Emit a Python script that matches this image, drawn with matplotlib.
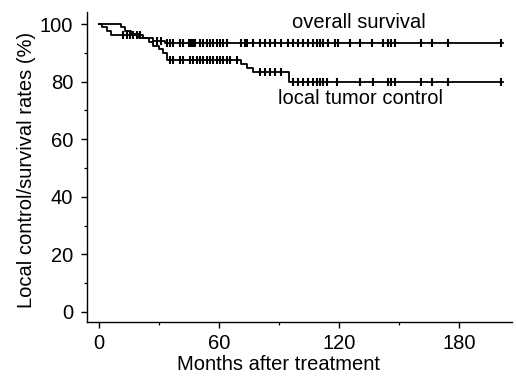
import numpy as np
import matplotlib
matplotlib.use("Agg")
import matplotlib.pyplot as plt
from matplotlib.ticker import MultipleLocator

plt.rcParams['font.family'] = ['Liberation Sans', 'DejaVu Sans']

# Overall survival (step times / values, censor times)
os_t = [0, 11, 13, 16, 20, 27, 33, 202]
os_v = [100, 98.8, 97.6, 96.4, 95.2, 94.2, 93.5, 93.5]
os_cens = [29, 31, 34, 35.5, 37, 40.5, 42, 45, 46, 47, 48, 50.5, 52, 54, 55.5, 57,
           59, 60.5, 62, 64, 71, 73, 74, 77, 80.5, 83, 85.5, 88, 91, 94.5, 97, 99.5,
           102, 104.5, 107, 109, 110.5, 112, 114.5, 118, 119.5, 125.5, 130.5, 136.5,
           142, 144.5, 146, 148, 161, 166.5, 174.5, 201]

# Local tumor control
lc_t = [0, 1.5, 4, 6, 22, 25, 27, 30, 32, 34, 71, 74, 77, 95, 202]
lc_v = [100, 98.8, 97.6, 96.2, 95.0, 93.8, 92.5, 91.2, 90.0, 87.5, 86.2, 84.8, 83.2, 80.0, 80.0]
lc_cens = [12, 14, 15.5, 17, 19, 20.5, 35.5, 37, 40.5, 42, 45.5, 47, 49, 50.5, 52, 54,
           55.5, 57, 59, 60.5, 62, 64, 65.5, 69, 80.5, 83, 85.5, 88, 91, 97, 99.5, 102,
           104.5, 107, 109, 110.5, 112, 114, 119, 130.5, 137, 144.5, 146, 148, 161,
           166.5, 174.5, 201]

x_ticks = [0, 60, 120, 180]
y_ticks = [0, 20, 40, 60, 80, 100]


def step_val(t, times, vals):
    idx = np.searchsorted(times, t, side='right') - 1
    return np.asarray(vals)[idx]


FS = 14.5
fig = plt.figure(figsize=(5.16, 3.76), dpi=100)
ax = fig.add_axes([0.1686, 0.1444, 0.8231, 0.8246])

for times, vals, cens in [(os_t, os_v, os_cens), (lc_t, lc_v, lc_cens)]:
    ax.plot(times, vals, drawstyle='steps-post', color='black', lw=1.3)
    cy = step_val(np.array(cens), np.array(times), vals)
    ax.plot(cens, cy, linestyle='none', marker='|', markersize=6,
            markeredgewidth=1.5, color='black')

ax.set_xlim(-6, 206.3)
ax.set_ylim(-3.4, 104.3)
ax.set_xticks(x_ticks)
ax.set_yticks(y_ticks)
ax.xaxis.set_minor_locator(MultipleLocator(30))
ax.yaxis.set_minor_locator(MultipleLocator(10))
ax.tick_params(which='major', direction='out', length=4, width=1.0, labelsize=FS)
ax.tick_params(axis='x', which='major', pad=5)
ax.tick_params(axis='y', which='major', pad=6)
ax.tick_params(which='minor', direction='out', length=2.5, width=0.9)
ax.spines['top'].set_visible(False)
ax.spines['right'].set_visible(False)
for s in ['left', 'bottom']:
    ax.spines[s].set_linewidth(1.0)

ax.set_xlabel('Months after treatment', fontsize=FS)
ax.set_ylabel('Local control/survival rates (%)', fontsize=FS)
ax.xaxis.set_label_coords(0.451, -0.108)
ax.yaxis.set_label_coords(-0.12, 0.49)

ax.text(96.5, 98.6, 'overall survival', fontsize=FS, ha='left', va='baseline')
ax.text(89.5, 72.2, 'local tumor control', fontsize=FS, ha='left', va='baseline')

fig.savefig('out.png', dpi=100)
